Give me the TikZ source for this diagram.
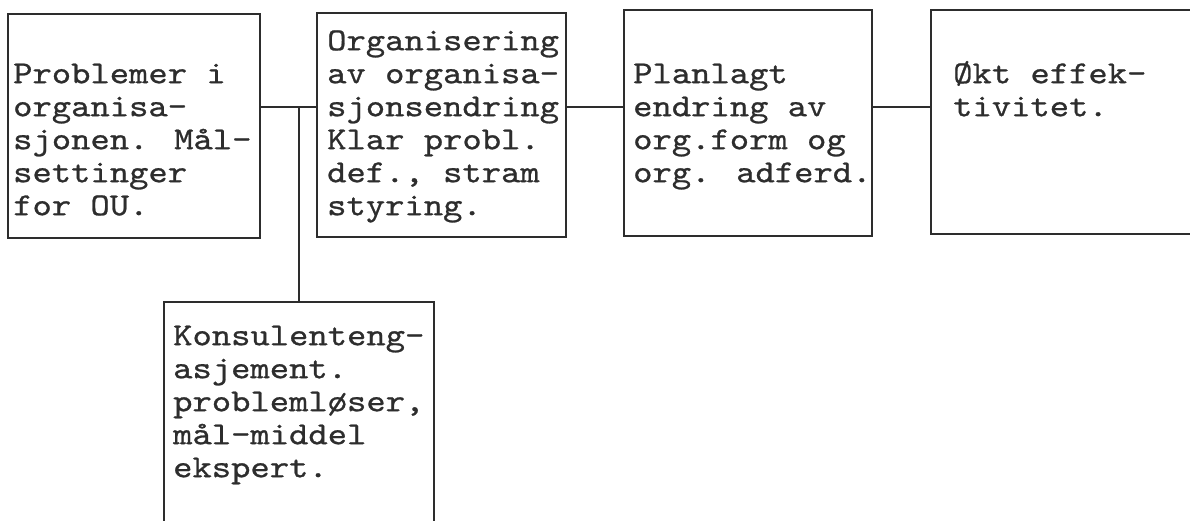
\documentclass[tikz,border=0pt]{standalone}
\usepackage{fontspec}
\newfontfamily\cour{lmmono10-regular.otf}[FakeStretch=1.15,FakeBold=0.8]
\definecolor{ink}{RGB}{45,45,45}
\begin{document}
\begin{tikzpicture}[x=1pt,y=-1pt,
  box/.style={draw=ink, line width=2.8pt, rectangle, inner sep=0pt, outer sep=0pt, anchor=north west},
  txt/.style={anchor=north west, inner sep=0pt, align=left, text=ink, font=\cour\fontsize{32}{33}\selectfont},
  wire/.style={draw=ink, line width=2.8pt}]
\useasboundingbox (0,0) rectangle (1190,520);
\clip (0,0) rectangle (1190,520);
% boxes
\node[box, minimum width=252pt, minimum height=224pt] (b1) at (8,14) {};
\node[box, minimum width=249pt, minimum height=224pt] (b2) at (317,13) {};
\node[box, minimum width=248pt, minimum height=226pt] (b3) at (624,10) {};
\node[box, minimum width=280pt, minimum height=224pt] (b4) at (931,10) {};
\node[box, minimum width=270pt, minimum height=240pt] (b5) at (164,302) {};
% texts
\node[txt] (t1) at (13,59.9) {\strut Problemer i\\organisa-\\sjonen. Mål-\\settinger\\for OU.};
\node[txt] (t2) at (327,26.9) {\strut Organisering\\av organisa-\\sjonsendring\\Klar probl.\\def., stram\\styring.};
\node[txt] (t3) at (633,59.9) {\strut Planlagt\\endring av\\org.form og\\org. adferd.};
\node[txt] (t4) at (953,59.9) {\strut Økt effek-\\tivitet.};
\node[txt] (t5) at (173,321.9) {\strut Konsulenteng-\\asjement.\\problemløser,\\mål-middel\\ekspert.};
% connectors
\coordinate (j) at (299,107);
\draw[wire] (b1.east |- j) -- (b2.west |- j);
\draw[wire] (j) -- (b5.north);
\draw[wire] (b2.east |- j) -- (b3.west |- j);
\draw[wire] (b3.east |- j) -- (b4.west |- j);
\end{tikzpicture}
\end{document}
